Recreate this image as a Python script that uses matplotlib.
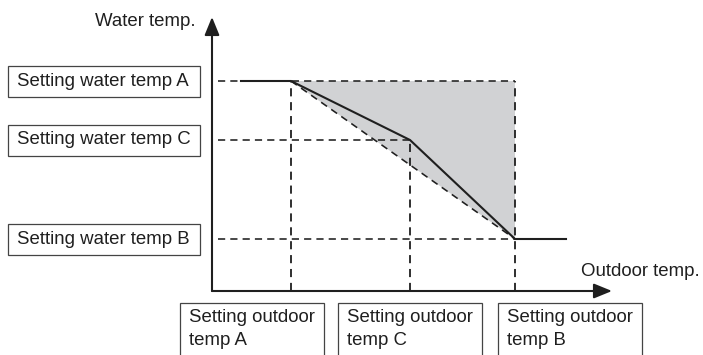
import matplotlib.pyplot as plt
from matplotlib.patches import Polygon, Rectangle

plt.rcParams['font.family'] = ['Liberation Sans', 'DejaVu Sans']

# Chart values (origin at the axis crossing, units = pixels at 100 dpi)
WATER_LABELS = ["Setting water temp A", "Setting water temp C", "Setting water temp B"]
WATER_LEVELS = [210, 151, 52]          # A, C, B
OUTDOOR_LABELS = ["Setting outdoor\ntemp A", "Setting outdoor\ntemp C", "Setting outdoor\ntemp B"]
OUTDOOR_POINTS = [79, 198, 303]        # A, C, B
OUTDOOR_BOX_LEFT = [-32, 126, 286]
CURVE_START = 29
CURVE_END = 354
DASH_START = 6
X_AXIS_END = 400
Y_AXIS_END = 274

INK = "#1f1f1f"
GREY_FILL = "#d1d2d4"
DASH = (0, (4.5, 3.2))

fig = plt.figure(figsize=(7.03, 3.55), dpi=100)
ax = fig.add_axes([0, 0, 1, 1])
ax.set_xlim(-212, 491)
ax.set_ylim(-64, 291)
ax.axis("off")

wa, wc, wb = WATER_LEVELS
oa, oc, ob = OUTDOOR_POINTS

# shaded band between the straight line and the upper-right corner
ax.add_patch(Polygon([(oa, wa), (ob, wa), (ob, wb)], closed=True,
                     facecolor=GREY_FILL, edgecolor="none", zorder=1))

# dashed guide lines
for lvl, xend in zip(WATER_LEVELS, [ob, oc, ob]):
    ax.plot([DASH_START, xend], [lvl, lvl], color=INK, lw=1.15, linestyle=DASH, zorder=2)
for xp, ytop in zip(OUTDOOR_POINTS, [wa, wc, wa]):
    ax.plot([xp, xp], [0, ytop], color=INK, lw=1.3, linestyle=DASH, zorder=2)
ax.plot([oa, ob], [wa, wb], color=INK, lw=1.15, linestyle=DASH, zorder=2)

# water temperature curve
ax.plot([CURVE_START, oa, oc, ob, CURVE_END], [wa, wa, wc, wb, wb],
        color=INK, lw=1.5, solid_joinstyle="miter", zorder=3)

# axes with arrow heads
arrow = dict(arrowstyle="-|>,head_length=1.1,head_width=0.45", color=INK, lw=1.5,
             shrinkA=0, shrinkB=0)
ax.annotate("", xy=(X_AXIS_END, 0), xytext=(0, 0), arrowprops=arrow, zorder=4)
ax.annotate("", xy=(0, Y_AXIS_END), xytext=(0, 0), arrowprops=arrow, zorder=4)

ax.text(-17, 270, "Water temp.", ha="right", va="center", fontsize=13.4, color=INK)
ax.text(369, 19, "Outdoor temp.", ha="left", va="center", fontsize=13.4, color=INK)

# label boxes on the left
for label, lvl in zip(WATER_LABELS, WATER_LEVELS):
    ax.add_patch(Rectangle((-204, lvl - 15.5), 192, 31, facecolor="white",
                           edgecolor="#444444", lw=0.9, zorder=5))
    ax.text(-195, lvl, label, ha="left", va="center", fontsize=13.4, color=INK, zorder=6)

# label boxes below the x axis
for label, left in zip(OUTDOOR_LABELS, OUTDOOR_BOX_LEFT):
    ax.add_patch(Rectangle((left, -80), 144, 68, facecolor="white",
                           edgecolor="#444444", lw=0.9, zorder=5))
    ax.text(left + 9, -38, label, ha="left", va="center", fontsize=13.4,
            color=INK, linespacing=1.4, zorder=6)

fig.savefig("out.png", dpi=100)
